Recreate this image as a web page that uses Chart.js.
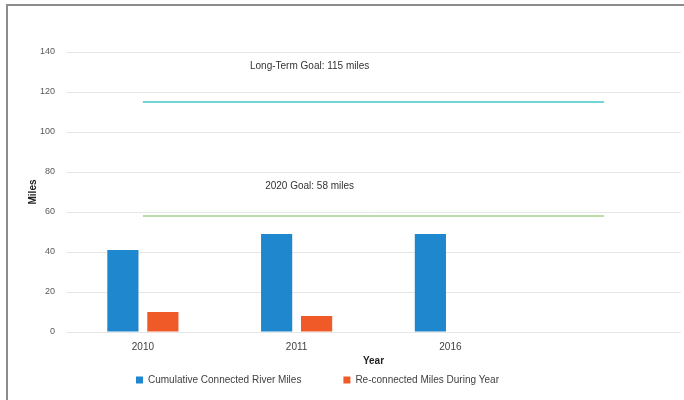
<!DOCTYPE html>
<html>
<head>
<meta charset="utf-8">
<script src="https://cdn.jsdelivr.net/npm/chart.js@4"></script>
<style>
  html, body { margin: 0; padding: 0; background: #fff; }
  #wrap { position: relative; width: 684px; height: 400px; }
  #frame {
    position: absolute; left: 6px; top: 4px; right: 0; bottom: 0;
    border-top: 2px solid #8c8c8c; border-left: 2px solid #8c8c8c;
    pointer-events: none;
  }
</style>
</head>
<body>
<div id="wrap">
  <canvas id="chart" width="684" height="400"></canvas>
  <div id="frame"></div>
</div>
<script>
// Chart data
const years = ['2010', '2011', '2016', ''];
const cumulativeMiles = [41, 49, 49, null];
const reconnectedMiles = [10, 8, null, null];
const longTermGoal = [115, 115, 115, 115];
const goal2020 = [58, 58, 58, 58];
const yTicks = [0, 20, 40, 60, 80, 100, 120, 140];

// Goal captions: text and the y value it sits at
const goalLabels = ['Long-Term Goal: 115 miles', '2020 Goal: 58 miles'];
const goalLabelValues = [133, 73];

const FONT = '"Liberation Sans", Arial, sans-serif';

const goalTextPlugin = {
  id: 'goalText',
  afterDatasetsDraw(chart) {
    const { ctx, scales } = chart;
    const x = scales.x.getPixelForValue(1) + 13;
    ctx.save();
    ctx.font = '10px ' + FONT;
    ctx.fillStyle = '#333333';
    ctx.textAlign = 'center';
    ctx.textBaseline = 'middle';
    goalLabels.forEach((text, i) => {
      ctx.fillText(text, x, scales.y.getPixelForValue(goalLabelValues[i]));
    });
    ctx.restore();
  }
};

// the legend's padding is used both ways; it only gets a short slot in the
// layout (maxHeight) so put the full box back, a bit left of centre
const legendNudge = {
  id: 'legendNudge',
  afterLayout(chart) {
    const lg = chart.legend;
    lg.top = 333;
    lg.bottom = 394;
    lg.height = lg.bottom - lg.top;
    lg.left -= 23;
    lg.right -= 23;
  }
};

const ctx = document.getElementById('chart').getContext('2d');
new Chart(ctx, {
  type: 'bar',
  data: {
    labels: years,
    datasets: [
      {
        type: 'line',
        label: 'Long-Term Goal',
        data: longTermGoal,
        borderColor: '#45c6c9',
        borderWidth: 1.5,
        pointRadius: 0,
        fill: false
      },
      {
        type: 'line',
        label: '2020 Goal',
        data: goal2020,
        borderColor: '#a6d08c',
        borderWidth: 1.5,
        pointRadius: 0,
        fill: false
      },
      {
        label: 'Cumulative Connected River Miles',
        data: cumulativeMiles,
        backgroundColor: '#1f87cd',
        categoryPercentage: 0.52,
        barPercentage: 0.78
      },
      {
        label: 'Re-connected Miles During Year',
        data: reconnectedMiles,
        backgroundColor: '#f05a29',
        categoryPercentage: 0.52,
        barPercentage: 0.78
      }
    ]
  },
  options: {
    responsive: false,
    animation: false,
    layout: { padding: { top: 52, right: 3, left: 0, bottom: 6 } },
    plugins: {
      legend: {
        position: 'bottom',
        maxHeight: 28,
        labels: {
          filter: item => item.datasetIndex >= 2,
          boxWidth: 7,
          boxHeight: 7,
          padding: 42,
          color: '#404040',
          font: { family: FONT, size: 10 }
        }
      },
      tooltip: { enabled: false }
    },
    scales: {
      x: {
        afterFit: scale => { scale.height = 34; },
        grid: { display: false, drawTicks: false },
        border: { display: false },
        ticks: { color: '#404040', font: { family: FONT, size: 10 }, padding: 9 },
        title: {
          display: true,
          text: 'Year',
          color: '#222222',
          font: { family: FONT, size: 10, weight: 'bold' },
          padding: { top: 1, bottom: -1 }
        }
      },
      y: {
        min: 0,
        max: 140,
        afterBuildTicks: scale => { scale.ticks = yTicks.map(v => ({ value: v })); },
        afterFit: scale => { scale.width = 66; },
        grid: { color: '#e6e6e6', drawTicks: false },
        border: { display: false },
        ticks: { color: '#595959', font: { family: FONT, size: 9 }, padding: 11 },
        title: {
          display: true,
          text: 'Miles',
          color: '#222222',
          font: { family: FONT, size: 10, weight: 'bold' },
          padding: { top: 27, bottom: 0 }
        }
      }
    }
  },
  plugins: [goalTextPlugin, legendNudge]
});
</script>
</body>
</html>
